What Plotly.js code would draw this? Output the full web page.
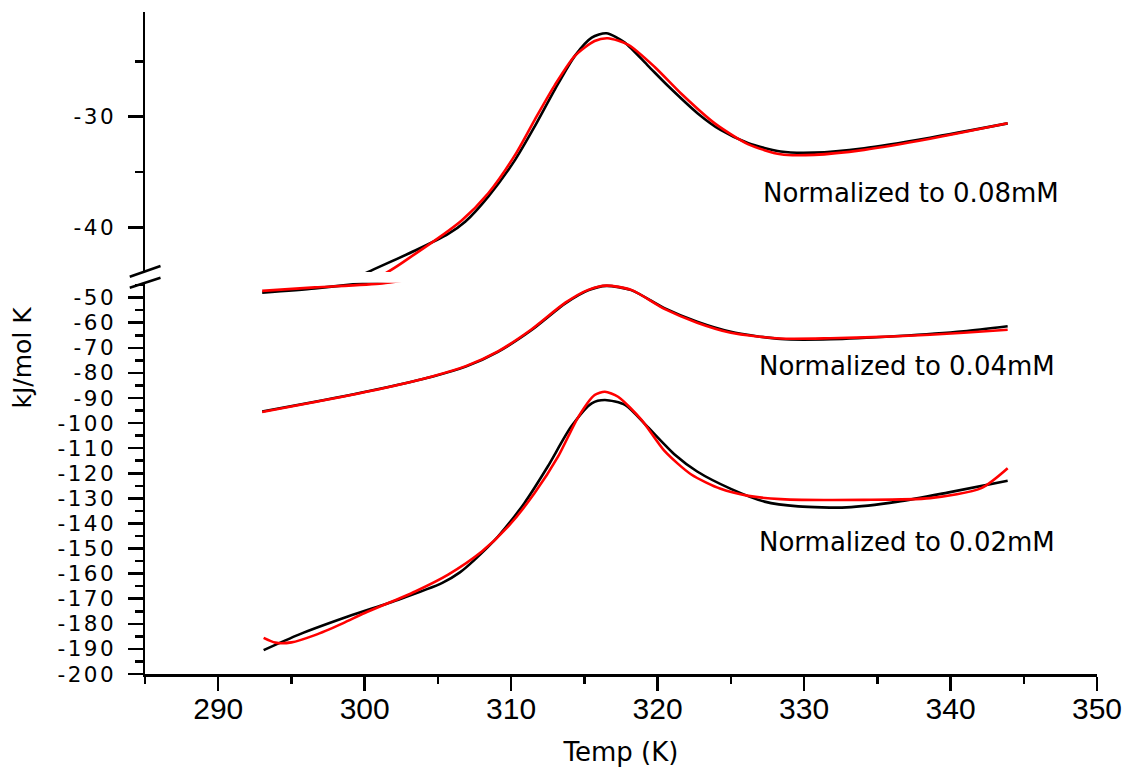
<!DOCTYPE html>
<html>
<head>
<meta charset="utf-8">
<script src="https://cdn.plot.ly/plotly-3.0.1.min.js"></script>
<style>
html, body { margin: 0; padding: 0; background: #ffffff; }
#chart { width: 1123px; height: 767px; }
.yaxislayer-above text { letter-spacing: 2.5px; }
</style>
</head>
<body>
<div id="chart"></div>
<script>
// ---- Data (Temp in K, values in kJ/mol K) ----
// 0.08 mM curves (span both sides of the axis break)
const temp08Black = [293.0, 296.6, 300.2, 303.45, 305.7, 306.86, 308.45, 310.27, 311.6, 313.0, 314.35, 315.5, 316.5, 317.76, 319.35, 320.7, 322.74, 324.3, 326.2, 328.4, 330.7, 334.1, 338.6, 343.9];
const val08Black  = [-48.0, -46.3, -44.06, -42.1, -40.6, -39.5, -37.2, -33.9, -30.9, -27.5, -24.5, -22.85, -22.45, -23.3, -25.4, -27.2, -29.7, -31.2, -32.4, -33.15, -33.25, -32.85, -31.9, -30.6];
const temp08Red   = [293.0, 296.6, 301.2, 303.45, 306.6, 308.45, 310.27, 311.6, 313.0, 314.35, 315.7, 316.6, 318.0, 319.8, 321.6, 323.9, 326.2, 328.4, 330.7, 334.1, 338.6, 343.9];
const val08Red    = [-47.3, -45.9, -44.3, -42.4, -39.4, -36.9, -33.45, -30.3, -27.1, -24.5, -23.15, -22.9, -23.5, -25.5, -27.9, -30.6, -32.5, -33.4, -33.45, -33.0, -32.0, -30.6];

// 0.04 mM curves
const temp04Black = [293.0, 296.6, 301.2, 304.6, 306.9, 309.1, 311.4, 313.7, 315.3, 316.5, 318.2, 320.5, 322.7, 325.0, 328.4, 331.8, 336.4, 340.9, 343.9];
const val04Black  = [-95.4, -91.5, -86.1, -81.5, -77.5, -71.6, -62.9, -52.3, -47.0, -45.3, -47.0, -54.3, -59.6, -63.6, -66.5, -66.6, -65.3, -63.4, -61.4];
const temp04Red   = [293.0, 296.6, 301.2, 304.6, 306.9, 309.1, 311.4, 313.7, 315.3, 316.5, 318.2, 320.5, 322.7, 325.0, 328.4, 331.8, 336.4, 340.9, 343.9];
const val04Red    = [-95.6, -91.6, -86.2, -81.4, -77.3, -71.4, -62.6, -52.0, -46.8, -45.2, -46.9, -54.6, -60.0, -64.0, -66.3, -66.2, -65.4, -64.0, -62.8];

// 0.02 mM curves
const temp02Black = [293.1, 295.5, 298.9, 302.3, 305.3, 306.5, 307.5, 309.1, 310.9, 312.5, 314.1, 315.5, 316.4, 317.8, 319.3, 321.2, 322.7, 325.0, 327.3, 329.6, 332.9, 336.4, 339.8, 343.9];
const val02Black  = [-190.5, -184.3, -177.0, -170.4, -163.7, -159.5, -154.5, -145.2, -131.9, -117.3, -101.4, -92.1, -90.8, -92.8, -101.4, -112.7, -119.3, -126.2, -131.3, -133.2, -133.6, -131.3, -127.7, -123.0];
const temp02Red   = [293.1, 293.9, 295.0, 296.6, 298.5, 300.0, 303.45, 305.7, 308.0, 309.8, 311.6, 313.2, 314.6, 315.7, 316.4, 317.3, 318.9, 320.5, 322.3, 324.3, 326.2, 328.4, 334.1, 338.6, 342.1, 343.9];
const val02Red    = [-185.6, -187.5, -187.4, -184.5, -179.8, -175.7, -167.1, -160.4, -151.2, -141.2, -127.9, -113.4, -97.4, -88.8, -87.5, -89.5, -98.7, -111.3, -120.5, -126.2, -129.0, -130.3, -130.6, -129.9, -125.9, -118.0];

// Tick labels (hyphen-minus as in the reference)
const xTickVals = [290, 300, 310, 320, 330, 340, 350];
const xTickText = ["290", "300", "310", "320", "330", "340", "350"];
const upperTickVals = [-40, -30];
const upperTickText = ["-40", "-30"];
const lowerTickVals = [-200, -190, -180, -170, -160, -150, -140, -130, -120, -110, -100, -90, -80, -70, -60, -50];
const lowerTickText = ["-200", "-190", "-180", "-170", "-160", "-150", "-140", "-130", "-120", "-110", "-100", "-90", "-80", "-70", "-60", "-50"];

// Labels
const curveLabels = ["Normalized to 0.08mM", "Normalized to 0.04mM", "Normalized to 0.02mM"];
const xTitle = "Temp (K)";
const yTitle = "kJ/mol K";

// ---- Styles ----
const BLACK = "#000000", RED = "#ff0000";
const LW = 2.6;
const wideFont = "DejaVu Sans, Verdana, sans-serif";

function line(x, y, color, yaxis, name) {
  return {
    type: "scatter", mode: "lines", x: x, y: y, yaxis: yaxis, xaxis: "x",
    name: name, showlegend: false, hoverinfo: "skip",
    line: { color: color, width: LW, shape: "spline", smoothing: 0.7 }
  };
}

const traces = [
  line(temp08Black, val08Black, BLACK, "y", "0.08 mM"),
  line(temp08Red, val08Red, RED, "y", "0.08 mM fit"),
  line(temp08Black, val08Black, BLACK, "y2", "0.08 mM"),
  line(temp08Red, val08Red, RED, "y2", "0.08 mM fit"),
  line(temp04Black, val04Black, BLACK, "y2", "0.04 mM"),
  line(temp04Red, val04Red, RED, "y2", "0.04 mM fit"),
  line(temp02Black, val02Black, BLACK, "y2", "0.02 mM"),
  line(temp02Red, val02Red, RED, "y2", "0.02 mM fit")
];

const axisCommon = {
  showline: true, linecolor: BLACK, linewidth: 2.5,
  ticks: "outside", tickcolor: BLACK, tickwidth: 2.5,
  showgrid: false, zeroline: false, fixedrange: true
};

const layout = {
  width: 1123, height: 767,
  paper_bgcolor: "#ffffff", plot_bgcolor: "#ffffff",
  margin: { l: 144.5, r: 26, t: 12, b: 93 },
  showlegend: false,
  xaxis: Object.assign({}, axisCommon, {
    range: [285, 350], anchor: "y2",
    tickmode: "array", tickvals: xTickVals, ticktext: xTickText, ticklen: 14,
    minor: { ticks: "outside", ticklen: 7, tickwidth: 2.5, tickcolor: BLACK, tick0: 285, dtick: 5, showgrid: false },
    tickfont: { family: "Liberation Sans, Arial, sans-serif", size: 30, color: BLACK },
    ticklabelstandoff: -8,
    title: { text: xTitle, font: { family: wideFont, size: 26, color: BLACK }, standoff: 34 }
  }),
  yaxis: Object.assign({}, axisCommon, {
    domain: [0.6073, 1], range: [-44.04, -20.53], anchor: "x",
    tickmode: "array", tickvals: upperTickVals, ticktext: upperTickText, ticklen: 15,
    minor: { ticks: "outside", ticklen: 8, tickwidth: 2.5, tickcolor: BLACK, tick0: -30, dtick: 5, showgrid: false },
    tickfont: { family: wideFont, size: 21.5, color: BLACK },
    ticklabelstandoff: 7
  }),
  yaxis2: Object.assign({}, axisCommon, {
    domain: [0, 0.5911], range: [-200, -44.04], anchor: "x",
    tickmode: "array", tickvals: lowerTickVals, ticktext: lowerTickText, ticklen: 15,
    minor: { ticks: "outside", ticklen: 8, tickwidth: 2.5, tickcolor: BLACK, tick0: -200, dtick: 5, showgrid: false },
    tickfont: { family: wideFont, size: 21.5, color: BLACK },
    ticklabelstandoff: 7
  }),
  shapes: [
    { type: "line", xref: "paper", yref: "paper", x0: -0.0160, y0: 0.6001, x1: 0.0163, y1: 0.6163, line: { color: BLACK, width: 2.5 } },
    { type: "line", xref: "paper", yref: "paper", x0: -0.0160, y0: 0.5834, x1: 0.0163, y1: 0.5985, line: { color: BLACK, width: 2.5 } }
  ],
  annotations: [
    { text: curveLabels[0], xref: "x", yref: "y", x: 337.3, y: -36.9, showarrow: false, xanchor: "center", yanchor: "middle",
      font: { family: wideFont, size: 26, color: BLACK } },
    { text: curveLabels[1], xref: "x", yref: "y2", x: 337.0, y: -77.2, showarrow: false, xanchor: "center", yanchor: "middle",
      font: { family: wideFont, size: 26, color: BLACK } },
    { text: curveLabels[2], xref: "x", yref: "y2", x: 337.0, y: -147.3, showarrow: false, xanchor: "center", yanchor: "middle",
      font: { family: wideFont, size: 26, color: BLACK } },
    { text: yTitle, xref: "paper", yref: "paper", x: -0.1282, y: 0.478, showarrow: false, textangle: -90,
      xanchor: "center", yanchor: "middle", font: { family: wideFont, size: 25, color: BLACK } }
  ]
};

Plotly.newPlot("chart", traces, layout, { staticPlot: true, displayModeBar: false });
</script>
</body>
</html>
